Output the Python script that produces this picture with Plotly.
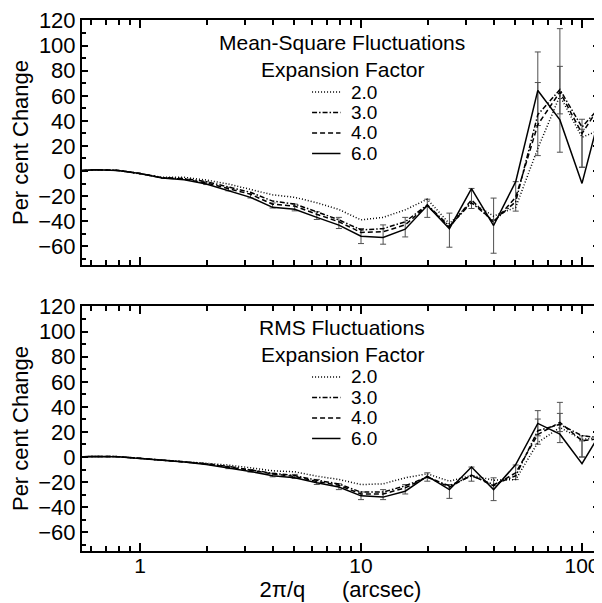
import plotly.graph_objects as go

# ---------------- data ----------------
x_vals = [0.501, 0.631, 0.794, 1.0, 1.259, 1.585, 1.995, 2.512, 3.162, 3.981,
          5.012, 6.310, 7.943, 10.0, 12.59, 15.85, 19.95, 25.12, 31.62, 39.81,
          50.12, 63.10, 79.43, 100.0, 125.9]

factors = ["2.0", "3.0", "4.0", "6.0"]

# Mean-square fluctuations (per cent change)
ms_20 = [0, 1, 0.5, -2, -5, -5, -7.2, -10.4, -14.7, -19, -21, -25.3, -30.7, -39, -37,
         -31, -22.5, -42, -25, -36, -29, 18, 60, 27, 34]
ms_30 = [0, 1, 0.5, -2, -5.3, -6, -8.5, -12.5, -17, -24, -26.4, -32.5, -39, -47, -46,
         -40.5, -27, -44, -25.3, -40, -24.5, 45, 65, 35, 55]
ms_40 = [0, 1, 0.5, -2, -5.5, -6.5, -9.5, -14, -18.5, -26.5, -28, -34.5, -40.5, -49, -48.5,
         -43, -27.5, -45, -23, -41, -21, 37, 63, 30, 57]
ms_60 = [0, 1, 0.5, -2, -5.5, -7, -10.4, -15.7, -21, -29, -30.5, -37, -43.2, -52, -53,
         -46.4, -27.5, -46, -14, -43.5, -8.5, 64.3, 40.8, -9.9, 58]

ms_err_x = [1.995, 2.512, 3.162, 3.981, 5.012, 6.310, 7.943, 10.0, 12.59, 15.85, 19.95,
            25.12, 31.62, 39.81, 50.12, 63.10, 63.10, 79.43, 79.43, 100.0, 100.0]
ms_err_lo = [-10.8, -15.8, -21.5, -29.5, -31.8, -38.7, -45.9, -57.9, -58.4, -52.6, -37,
             -60.8, -29.9, -65.6, -32, 36.3, 12.3, 45.6, 15, 3, 3]
ms_err_hi = [-8.6, -13, -18, -25.5, -26.4, -32.5, -37, -45.9, -43, -37, -22.5,
             -33.6, -13.9, -21.6, -8.5, 95, 70.6, 113.6, 83.5, 41.3, 33.3]

# RMS fluctuations (per cent change)
rms_20 = [0, 0.5, 0.3, -1, -2.5, -3.3, -4.8, -6.4, -8.6, -11, -11.8, -15.3, -17.9, -22, -21.4,
          -16.6, -13.4, -19.3, -14.7, -18.5, -18, 11.5, 23.6, 14, 16]
rms_30 = [0, 0.5, 0.3, -1, -2.6, -3.6, -5.3, -7.5, -10, -13, -14.8, -18.5, -21.5, -28, -28,
          -23, -16, -23, -15, -22, -15, 21, 26, 17, 15]
rms_40 = [0, 0.5, 0.3, -1, -2.7, -3.8, -5.6, -8, -10.5, -13.5, -15.5, -19.5, -22.5, -29.5, -29.5,
          -24.6, -16, -24, -14.5, -23, -12.6, 18, 27.6, 13, 15]
rms_60 = [0, 0.5, 0.3, -1, -2.7, -4, -6, -8.8, -11.5, -15, -16.6, -20.6, -24, -31, -32,
          -27.3, -15.3, -26, -8, -26, -6, 26.8, 18.2, -5.3, 24]

rms_err_x = [2.512, 3.162, 3.981, 5.012, 6.310, 7.943, 10.0, 12.59, 15.85, 19.95, 25.12,
             31.62, 39.81, 50.12, 63.10, 63.10, 79.43, 79.43, 100.0, 100.0]
rms_err_lo = [-9.3, -12, -15.8, -17.1, -21.9, -26, -34, -34, -29.5, -19.3, -33,
              -19.3, -34.8, -18, 16.9, 10.2, 20.3, 11.5, 0, 0]
rms_err_hi = [-7.5, -10, -13, -13.9, -17.9, -21.4, -27.9, -26, -22, -12.6, -22,
              -8, -16.6, -6.4, 37, 30.3, 43.6, 34.8, 16.9, 12.9]

y_ticks = [-60, -40, -20, 0, 20, 40, 60, 80, 100, 120]
x_ticks = [1, 10, 100]
x_tick_text = ["1", "10", "100"]

# ---------------- styling ----------------
FONT = "Liberation Sans, Arial, Helvetica, sans-serif"
dashes = ["1px,2px", "5px,2px,1.5px,2px", "5px,3px", "solid"]
LW = 1.5

fig = go.Figure()

panels = [
    ("x", "y", [ms_20, ms_30, ms_40, ms_60], ms_err_x, ms_err_lo, ms_err_hi),
    ("x2", "y2", [rms_20, rms_30, rms_40, rms_60], rms_err_x, rms_err_lo, rms_err_hi),
]

for xa, ya, series, ex, elo, ehi in panels:
    mid = [(l + h) / 2 for l, h in zip(elo, ehi)]
    half = [(h - l) / 2 for l, h in zip(elo, ehi)]
    fig.add_trace(go.Scatter(
        x=ex, y=mid, xaxis=xa, yaxis=ya, mode="markers",
        marker=dict(size=1, color="rgba(0,0,0,0)"),
        error_y=dict(type="data", array=half, symmetric=True,
                     color="#505050", thickness=1, width=3),
        showlegend=False, hoverinfo="skip"))
    for name, vals, dash in zip(factors, series, dashes):
        fig.add_trace(go.Scatter(
            x=x_vals, y=vals, xaxis=xa, yaxis=ya, mode="lines", name=name,
            line=dict(color="black", width=LW, dash=dash),
            showlegend=False))

minor_x = [v * 10 ** d for d in (-1, 0, 1) for v in range(2, 10)]

def xaxis_cfg(anchor, show_labels):
    return dict(
        type="log", range=[-0.2624, 2.0769], anchor=anchor, automargin=False,
        tickmode="array", tickvals=x_ticks, ticktext=x_tick_text,
        showticklabels=show_labels, ticklabelstandoff=-5,
        ticklabeloverflow="allow",
        ticks="inside", ticklen=8, tickwidth=1.5, tickcolor="black",
        minor=dict(tickmode="array", tickvals=minor_x, ticks="inside",
                   ticklen=5, tickwidth=1.5, tickcolor="black", showgrid=False),
        showline=True, linewidth=2, linecolor="black", mirror="allticks",
        showgrid=False, zeroline=False,
        tickfont=dict(family=FONT, size=21, color="black"),
    )

def yaxis_cfg(anchor, domain):
    return dict(
        domain=domain, range=[-75, 120.5], anchor=anchor, automargin=False,
        tickmode="array", tickvals=y_ticks,
        ticks="inside", ticklen=6, tickwidth=1.5, tickcolor="black",
        minor=dict(dtick=10, tick0=0, ticks="inside", ticklen=4, tickwidth=1.5,
                   tickcolor="black", showgrid=False),
        showline=True, linewidth=2, linecolor="black", mirror="allticks",
        showgrid=False, zeroline=False,
        tickfont=dict(family=FONT, size=22, color="black"),
        title=dict(text="Per cent Change", font=dict(family=FONT, size=22, color="black"),
                   standoff=6),
    )

# the page places the figure 8 px in from the top-left corner, so the figure is
# sized to fit the 602x603 window exactly
fig.update_layout(
    width=594, height=595,
    margin=dict(l=74, r=3, t=12, b=52, autoexpand=False),
    paper_bgcolor="white", plot_bgcolor="white",
    showlegend=False,
    xaxis=xaxis_cfg("y", False),
    yaxis=yaxis_cfg("x", [0.5386, 1.0]),
    xaxis2=xaxis_cfg("y2", True),
    yaxis2=yaxis_cfg("x2", [0.0, 0.4614]),
)
fig.layout.xaxis2.title = dict(
    text="2\u03c0/q\u00a0\u00a0\u00a0\u00a0\u00a0\u00a0(arcsec)",
    font=dict(family=FONT, size=22, color="black"), standoff=2)

# ---------------- in-panel titles and legends ----------------
titles = ["Mean-Square Fluctuations", "RMS Fluctuations"]
title_y = [0.9567, 0.4200]   # paper coordinates
row_step = 0.0386
for t, ty in zip(titles, title_y):
    fig.add_annotation(text=t, x=0.502, y=ty, xref="paper", yref="paper",
                       showarrow=False, xanchor="center", yanchor="middle",
                       font=dict(family=FONT, size=21, color="black"))
    fig.add_annotation(text="Expansion Factor", x=0.503, y=ty - 0.0508,
                       xref="paper", yref="paper", showarrow=False,
                       xanchor="center", yanchor="middle",
                       font=dict(family=FONT, size=21, color="black"))
    for i, (name, dash) in enumerate(zip(factors, dashes)):
        yy = ty - 0.0508 - 0.0415 - i * row_step
        fig.add_shape(type="line", xref="paper", yref="paper",
                      x0=0.445, x1=0.500, y0=yy, y1=yy,
                      line=dict(color="black", width=LW, dash=dash))
        fig.add_annotation(text=name, x=0.516, y=yy, xref="paper", yref="paper",
                           showarrow=False, xanchor="left", yanchor="middle",
                           font=dict(family=FONT, size=19, color="black"))

fig.write_html("out.html")
